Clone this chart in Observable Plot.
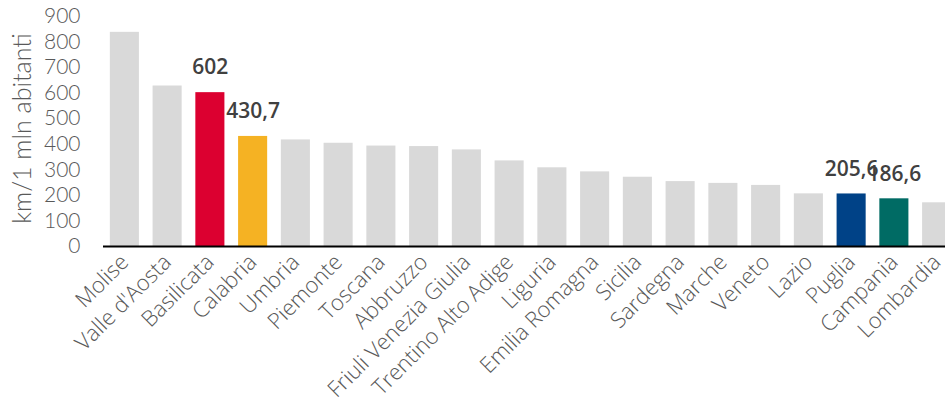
<!DOCTYPE html>
<html><head><meta charset="utf-8">
<script src="https://cdn.jsdelivr.net/npm/d3@7"></script>
<script src="https://cdn.jsdelivr.net/npm/@observablehq/plot@0.6"></script>
<style>body{margin:0;background:#fff} #chart svg{display:block;overflow:hidden}</style>
</head><body><div id="chart"></div>
<script>
const regions = ["Molise","Valle d'Aosta","Basilicata","Calabria","Umbria","Piemonte","Toscana","Abbruzzo","Friuli Venezia Giulia","Trentino Alto Adige","Liguria","Emilia Romagna","Sicilia","Sardegna","Marche","Veneto","Lazio","Puglia","Campania","Lombardia"];
const values = [838, 628, 602, 430.7, 417, 404, 393, 391, 378, 335, 308, 292, 271, 254, 247, 239, 206, 205.6, 186.6, 171];
const barColors = ["#d9d9d9","#d9d9d9","#dc0030","#f5b223","#d9d9d9","#d9d9d9","#d9d9d9","#d9d9d9","#d9d9d9","#d9d9d9","#d9d9d9","#d9d9d9","#d9d9d9","#d9d9d9","#d9d9d9","#d9d9d9","#d9d9d9","#004287","#006b64","#d9d9d9"];
const valueLabels = ["","","602","430,7","","","","","","","","","","","","","","205,6","186,6",""];
const yTicks = [0,100,200,300,400,500,600,700,800,900];
const yLabel = "km/1 mln abitanti";

const data = regions.map((r,i)=>({region:r, value:values[i], color:barColors[i], label:valueLabels[i]}));

const chart = Plot.plot({
  width: 945, height: 412,
  marginTop: 16, marginBottom: 166, marginLeft: 103, marginRight: 0,
  style: {fontFamily: "Open Sans", background: "white", overflow: "hidden"},
  x: {domain: regions, range: [103, 958], paddingInner: 0.32, paddingOuter: 0.16, round: false, label: null},
  y: {domain: [0, 900], label: null},
  marks: [
    Plot.barY(data, {x: "region", y: "value", fill: "color"}),
    Plot.ruleY([0], {stroke: "#000", strokeWidth: 2}),
    Plot.text(data.filter(d => d.label), {x: "region", y: "value", text: "label", dy: -25, fontSize: 21, fontWeight: 600, fill: "#404040", fontFamily: "Open Sans"}),
    Plot.axisY({ticks: yTicks, tickSize: 0, tickPadding: 23, fontSize: 21, fontWeight: 300, fontFamily: "Lato", fill: "#595959", label: null}),
    Plot.axisX({tickSize: 0, tickRotate: -45, tickPadding: 12, fontSize: 22, fontWeight: 300, fontFamily: "Open Sans", fill: "#595959", label: null}),
    Plot.text([yLabel], {frameAnchor: "left", textAnchor: "middle", rotate: -90, dx: -81, dy: -3, fontSize: 25, fontWeight: 300, fontFamily: "Lato", fill: "#595959"})
  ]
});
document.getElementById("chart").appendChild(chart);
</script>
</body></html>
